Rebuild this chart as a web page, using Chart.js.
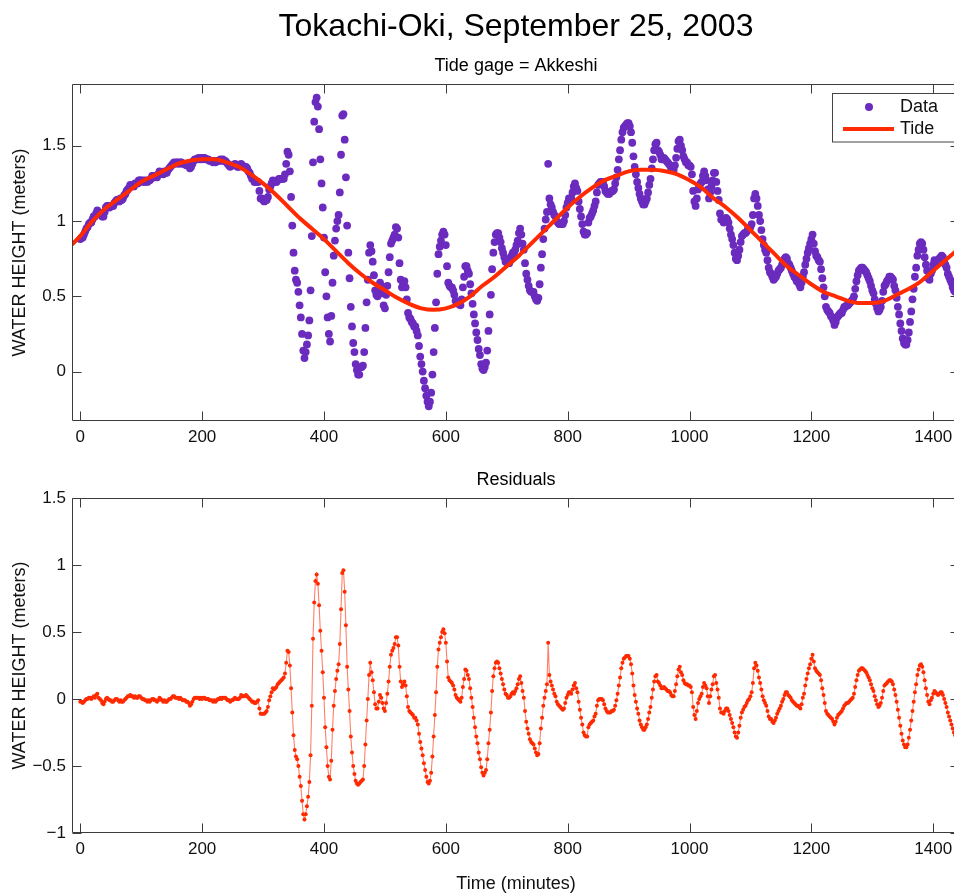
<!DOCTYPE html>
<html><head><meta charset="utf-8">
<script src="https://cdn.jsdelivr.net/npm/chart.js@4.4.1/dist/chart.umd.min.js"></script>
<style>
html,body{margin:0;padding:0;background:#fff;overflow:hidden;}
#wrap{position:relative;width:954px;height:893px;overflow:hidden;background:#fff;}
#c1{position:absolute;left:0;top:0;}
#c2{position:absolute;left:0;top:460px;}
</style></head><body>
<div id="wrap">
<canvas id="c1" width="960" height="470" style="width:960px;height:470px"></canvas>
<canvas id="c2" width="960" height="435" style="width:960px;height:435px"></canvas>
</div>
<script>
// ---------------- DATA ----------------
const mainTitle = 'Tokachi-Oki, September 25, 2003';
const topSubtitle = 'Tide gage = Akkeshi';
const bottomTitle = 'Residuals';
const yAxisTitle = 'WATER HEIGHT (meters)';
const xAxisTitle = 'Time (minutes)';
const seriesNames = ['Data', 'Tide'];

// sample clock of the gauge record (minutes)
const SAMPLE_START = 0, SAMPLE_STEP = 2;

// observed water height (m), one value every 2 minutes from t = 0
const observed = [
0.88,0.89,0.89,0.91,0.93,0.95,0.96,0.98,0.99,0.99,
1.01,1.03,1.03,1.05,1.07,1.05,1.05,1.05,1.03,1.03,
1.06,1.09,1.10,1.10,1.09,1.10,1.10,1.10,1.12,1.13,
1.14,1.14,1.13,1.15,1.14,1.15,1.17,1.18,1.20,1.21,
1.22,1.24,1.23,1.24,1.23,1.25,1.25,1.25,1.27,1.27,
1.27,1.26,1.27,1.26,1.27,1.26,1.27,1.27,1.28,1.30,
1.30,1.29,1.30,1.29,1.31,1.33,1.32,1.32,1.31,1.33,
1.32,1.32,1.34,1.35,1.36,1.37,1.38,1.39,1.38,1.39,
1.39,1.38,1.39,1.39,1.38,1.38,1.38,1.37,1.38,1.37,
1.35,1.36,1.38,1.40,1.41,1.41,1.41,1.42,1.41,1.42,
1.41,1.42,1.42,1.41,1.41,1.41,1.40,1.40,1.40,1.39,
1.40,1.39,1.40,1.40,1.40,1.41,1.40,1.41,1.40,1.40,
1.39,1.38,1.37,1.36,1.37,1.37,1.37,1.38,1.37,1.36,
1.36,1.37,1.38,1.37,1.36,1.36,1.36,1.35,1.33,1.32,
1.30,1.28,1.28,1.26,1.26,1.26,1.26,1.20,1.15,1.15,
1.14,1.13,1.14,1.14,1.16,1.21,1.23,1.25,1.27,1.26,
1.26,1.26,1.27,1.28,1.28,1.28,1.28,1.28,1.31,1.38,
1.46,1.44,1.33,1.16,0.97,0.79,0.67,0.61,0.59,0.53,
0.44,0.36,0.25,0.14,0.09,0.13,0.18,0.24,0.34,0.54,
0.90,1.39,1.66,1.79,1.82,1.76,1.61,1.41,1.25,1.09,
0.89,0.66,0.50,0.36,0.25,0.20,0.37,0.59,0.77,0.87,
0.95,1.00,1.04,1.19,1.44,1.70,1.71,1.54,1.29,0.97,
0.79,0.62,0.43,0.30,0.19,0.13,0.05,0.01,-0.02,-0.02,
0.03,0.03,0.04,0.13,0.29,0.46,0.61,0.79,0.84,0.80,
0.73,0.64,0.54,0.51,0.50,0.55,0.59,0.57,0.52,0.44,
0.42,0.51,0.57,0.66,0.76,0.85,0.87,0.89,0.91,0.96,
0.95,0.89,0.72,0.61,0.56,0.58,0.60,0.56,0.48,0.39,
0.36,0.35,0.33,0.32,0.30,0.30,0.27,0.24,0.17,0.10,
0.05,0.00,-0.06,-0.11,-0.16,-0.20,-0.23,-0.20,-0.14,-0.02,
0.13,0.29,0.46,0.65,0.78,0.83,0.87,0.91,0.93,0.91,
0.84,0.70,0.59,0.57,0.56,0.56,0.54,0.51,0.47,0.46,
0.45,0.45,0.44,0.48,0.56,0.63,0.70,0.70,0.67,0.65,
0.58,0.52,0.45,0.38,0.32,0.26,0.21,0.15,0.11,0.05,
0.02,0.01,0.03,0.06,0.14,0.27,0.38,0.51,0.68,0.79,
0.86,0.91,0.92,0.92,0.89,0.86,0.82,0.79,0.76,0.73,
0.73,0.72,0.72,0.74,0.77,0.79,0.78,0.81,0.84,0.87,
0.92,0.95,0.91,0.85,0.81,0.72,0.65,0.61,0.57,0.54,
0.53,0.53,0.53,0.50,0.48,0.47,0.49,0.58,0.69,0.78,
0.88,0.95,1.01,1.06,1.38,1.15,1.11,1.09,1.06,1.04,
1.03,1.00,0.99,0.98,0.98,0.98,0.98,1.00,1.04,1.09,
1.12,1.15,1.15,1.15,1.19,1.23,1.25,1.22,1.20,1.13,
1.08,1.03,0.98,0.93,0.91,0.91,0.92,0.99,1.02,1.03,
1.05,1.07,1.10,1.13,1.19,1.24,1.25,1.26,1.26,1.26,
1.23,1.20,1.19,1.18,1.18,1.19,1.20,1.20,1.21,1.25,
1.29,1.34,1.41,1.47,1.54,1.59,1.62,1.63,1.64,1.65,
1.65,1.63,1.59,1.52,1.43,1.36,1.31,1.26,1.22,1.18,
1.15,1.13,1.11,1.11,1.13,1.15,1.19,1.24,1.28,1.35,
1.41,1.47,1.51,1.52,1.47,1.46,1.44,1.41,1.41,1.42,
1.41,1.40,1.39,1.38,1.37,1.35,1.34,1.34,1.37,1.42,
1.48,1.53,1.54,1.50,1.47,1.43,1.41,1.39,1.39,1.37,
1.37,1.36,1.31,1.20,1.13,1.10,1.15,1.21,1.23,1.25,
1.26,1.30,1.33,1.30,1.27,1.21,1.15,1.19,1.23,1.27,
1.32,1.32,1.26,1.20,1.14,1.05,1.01,1.01,0.99,1.01,
1.02,1.01,0.99,0.95,0.91,0.88,0.84,0.79,0.75,0.74,
0.77,0.81,0.86,0.90,0.91,0.92,0.92,0.93,0.95,0.95,
0.96,0.98,1.04,1.15,1.18,1.15,1.10,1.04,1.00,0.94,
0.88,0.84,0.81,0.79,0.74,0.69,0.66,0.65,0.63,0.61,
0.62,0.63,0.65,0.67,0.68,0.69,0.71,0.72,0.75,0.76,
0.75,0.72,0.71,0.69,0.67,0.65,0.63,0.62,0.60,0.60,
0.58,0.56,0.59,0.63,0.66,0.71,0.75,0.79,0.82,0.85,
0.88,0.91,0.85,0.80,0.77,0.76,0.74,0.73,0.68,0.62,
0.56,0.50,0.43,0.41,0.40,0.39,0.37,0.36,0.34,0.31,
0.33,0.36,0.37,0.38,0.39,0.39,0.41,0.43,0.43,0.44,
0.44,0.45,0.46,0.47,0.48,0.50,0.55,0.60,0.64,0.67,
0.68,0.69,0.69,0.68,0.67,0.66,0.64,0.62,0.60,0.57,
0.54,0.52,0.48,0.45,0.42,0.40,0.41,0.43,0.47,0.53,
0.57,0.58,0.60,0.61,0.63,0.63,0.62,0.61,0.57,0.54,
0.49,0.43,0.38,0.32,0.27,0.22,0.19,0.18,0.18,0.21,
0.26,0.33,0.40,0.48,0.55,0.63,0.69,0.77,0.81,0.85,
0.86,0.85,0.81,0.76,0.71,0.67,0.62,0.61,0.65,0.67,
0.71,0.74,0.73,0.73,0.73,0.75,0.76,0.77,0.76,0.73,
0.71,0.69,0.65,0.63,0.61,0.59,0.56,0.54,0.53
];

// residual (observed - tide), m, one value every 2 minutes from t = 0
const residual = [
-0.02,-0.02,-0.03,-0.02,-0.01,0.00,0.00,0.01,0.01,0.00,
0.01,0.02,0.01,0.03,0.04,0.01,0.00,-0.01,-0.03,-0.04,
-0.02,0.00,0.01,0.00,-0.01,-0.01,-0.02,-0.02,-0.01,0.00,
0.00,-0.01,-0.02,-0.01,-0.02,-0.02,-0.01,0.00,0.01,0.02,
0.02,0.03,0.02,0.02,0.01,0.02,0.01,0.01,0.02,0.02,
0.01,0.00,0.00,-0.01,-0.01,-0.02,-0.01,-0.02,-0.01,0.00,
0.00,-0.01,-0.01,-0.02,-0.01,0.01,0.00,-0.01,-0.02,-0.01,
-0.02,-0.02,-0.01,0.00,0.00,0.01,0.02,0.02,0.01,0.01,
0.01,0.00,0.01,0.00,-0.01,-0.01,-0.01,-0.02,-0.02,-0.03,
-0.05,-0.04,-0.02,0.00,0.01,0.01,0.01,0.01,0.00,0.01,
0.00,0.01,0.01,0.00,0.00,0.00,-0.01,-0.01,-0.01,-0.02,
-0.01,-0.02,-0.01,0.00,0.00,0.01,0.00,0.01,0.01,0.01,
0.00,-0.01,-0.01,-0.02,-0.01,-0.01,0.00,0.01,0.00,0.00,
0.00,0.01,0.03,0.02,0.02,0.02,0.03,0.02,0.01,0.00,
-0.01,-0.02,-0.02,-0.03,-0.03,-0.02,-0.01,-0.07,-0.11,-0.11,
-0.11,-0.11,-0.10,-0.09,-0.06,-0.01,0.02,0.05,0.08,0.07,
0.08,0.09,0.11,0.12,0.13,0.14,0.15,0.16,0.19,0.27,
0.36,0.35,0.25,0.08,-0.10,-0.27,-0.38,-0.43,-0.45,-0.50,
-0.58,-0.65,-0.76,-0.86,-0.90,-0.86,-0.80,-0.73,-0.62,-0.42,
-0.05,0.45,0.72,0.88,0.93,0.86,0.70,0.51,0.36,0.20,
0.01,-0.21,-0.36,-0.50,-0.58,-0.60,-0.46,-0.23,-0.05,0.06,
0.15,0.21,0.26,0.41,0.67,0.94,0.96,0.80,0.55,0.24,
0.07,-0.09,-0.28,-0.40,-0.50,-0.56,-0.61,-0.63,-0.64,-0.63,
-0.62,-0.61,-0.60,-0.50,-0.34,-0.16,0.00,0.18,0.27,0.20,
0.14,0.05,-0.04,-0.07,-0.07,-0.02,0.03,0.01,-0.03,-0.07,
-0.09,-0.03,0.04,0.13,0.24,0.33,0.36,0.38,0.41,0.46,
0.46,0.40,0.24,0.13,0.09,0.11,0.13,0.10,0.02,-0.06,
-0.09,-0.10,-0.11,-0.12,-0.14,-0.14,-0.16,-0.19,-0.26,-0.32,
-0.37,-0.42,-0.48,-0.53,-0.58,-0.62,-0.63,-0.61,-0.55,-0.43,
-0.28,-0.12,0.05,0.24,0.37,0.42,0.46,0.50,0.52,0.49,
0.42,0.28,0.16,0.14,0.13,0.12,0.10,0.07,0.03,0.01,
0.00,-0.01,-0.02,0.01,0.09,0.15,0.22,0.21,0.18,0.15,
0.08,0.01,-0.06,-0.14,-0.21,-0.28,-0.33,-0.40,-0.45,-0.51,
-0.55,-0.57,-0.55,-0.53,-0.45,-0.33,-0.23,-0.10,0.06,0.17,
0.23,0.27,0.28,0.27,0.23,0.19,0.15,0.11,0.07,0.04,
0.03,0.01,0.01,0.02,0.04,0.05,0.04,0.06,0.08,0.11,
0.15,0.17,0.12,0.06,0.01,-0.09,-0.17,-0.22,-0.26,-0.30,
-0.32,-0.33,-0.34,-0.37,-0.40,-0.42,-0.41,-0.33,-0.22,-0.14,
-0.05,0.01,0.06,0.11,0.42,0.18,0.13,0.10,0.07,0.04,
0.02,-0.02,-0.04,-0.05,-0.06,-0.07,-0.08,-0.07,-0.03,0.01,
0.03,0.05,0.05,0.04,0.07,0.10,0.12,0.08,0.05,-0.02,
-0.08,-0.14,-0.19,-0.25,-0.27,-0.28,-0.28,-0.21,-0.19,-0.18,
-0.17,-0.16,-0.13,-0.11,-0.05,-0.01,0.00,0.00,0.00,-0.01,
-0.04,-0.07,-0.09,-0.10,-0.10,-0.10,-0.09,-0.09,-0.08,-0.05,
-0.01,0.04,0.10,0.16,0.23,0.27,0.30,0.31,0.32,0.32,
0.32,0.30,0.26,0.19,0.10,0.03,-0.02,-0.07,-0.11,-0.16,
-0.19,-0.21,-0.23,-0.23,-0.21,-0.19,-0.15,-0.10,-0.06,0.01,
0.07,0.13,0.17,0.18,0.13,0.12,0.10,0.08,0.08,0.09,
0.08,0.07,0.06,0.06,0.05,0.03,0.02,0.02,0.06,0.11,
0.17,0.22,0.24,0.20,0.18,0.14,0.12,0.11,0.11,0.10,
0.10,0.09,0.05,-0.06,-0.12,-0.15,-0.09,-0.03,0.00,0.02,
0.04,0.09,0.12,0.10,0.08,0.02,-0.03,0.02,0.07,0.11,
0.17,0.18,0.12,0.07,0.01,-0.07,-0.10,-0.10,-0.11,-0.09,
-0.07,-0.07,-0.09,-0.12,-0.15,-0.18,-0.21,-0.25,-0.28,-0.29,
-0.25,-0.20,-0.14,-0.10,-0.08,-0.06,-0.05,-0.03,-0.01,0.00,
0.02,0.05,0.12,0.23,0.27,0.25,0.21,0.16,0.12,0.07,
0.02,-0.01,-0.03,-0.05,-0.09,-0.13,-0.15,-0.15,-0.17,-0.18,
-0.16,-0.14,-0.11,-0.09,-0.07,-0.05,-0.02,0.00,0.03,0.05,
0.05,0.03,0.02,0.01,-0.01,-0.02,-0.03,-0.04,-0.05,-0.05,
-0.06,-0.07,-0.04,0.01,0.04,0.10,0.15,0.19,0.23,0.26,
0.30,0.33,0.28,0.23,0.21,0.20,0.19,0.18,0.14,0.08,
0.03,-0.03,-0.09,-0.11,-0.12,-0.13,-0.14,-0.15,-0.17,-0.19,
-0.17,-0.14,-0.12,-0.11,-0.10,-0.09,-0.07,-0.05,-0.04,-0.03,
-0.03,-0.02,-0.01,0.00,0.01,0.04,0.09,0.14,0.18,0.21,
0.22,0.23,0.23,0.22,0.21,0.20,0.18,0.16,0.14,0.11,
0.08,0.06,0.02,-0.01,-0.04,-0.06,-0.05,-0.03,0.01,0.06,
0.10,0.11,0.12,0.13,0.14,0.14,0.13,0.11,0.07,0.03,
-0.02,-0.08,-0.14,-0.20,-0.26,-0.31,-0.34,-0.36,-0.36,-0.34,
-0.29,-0.23,-0.16,-0.09,-0.02,0.05,0.11,0.18,0.22,0.25,
0.26,0.24,0.20,0.14,0.08,0.03,-0.02,-0.04,-0.01,0.01,
0.04,0.06,0.05,0.04,0.03,0.04,0.05,0.05,0.03,0.00,
-0.03,-0.06,-0.10,-0.13,-0.16,-0.19,-0.22,-0.25,-0.27
];

// predicted tide (m), read every 20 minutes
const tideMinutes = [-20,0,20,40,60,80,100,120,140,160,180,200,220,240,260,280,300,320,340,360,
380,400,420,440,460,480,500,520,540,560,580,600,620,640,660,680,700,720,740,760,
780,800,820,840,860,880,900,920,940,960,980,1000,1020,1040,1060,1080,1100,1120,1140,1160,
1180,1200,1220,1240,1260,1280,1300,1320,1340,1360,1380,1400,1420,1440];
const tideValues = [0.82,0.90,1.00,1.08,1.14,1.20,1.26,1.30,1.34,1.38,1.40,1.41,1.41,1.39,1.36,1.31,1.25,1.18,1.10,1.02,
0.95,0.88,0.80,0.72,0.65,0.59,0.54,0.49,0.45,0.42,0.41,0.42,0.45,0.50,0.57,0.63,0.70,0.77,0.85,0.93,
1.01,1.09,1.16,1.22,1.27,1.30,1.33,1.34,1.34,1.33,1.31,1.27,1.22,1.15,1.09,1.02,0.94,0.86,0.78,0.70,
0.64,0.58,0.53,0.50,0.47,0.455,0.455,0.47,0.51,0.55,0.60,0.67,0.74,0.81];

const xTickStep = 200;
const topYTickStep = 0.5;
const bottomYTickStep = 0.5;

// ---------------- STYLE ----------------
const FONT = "'Liberation Sans', Arial, Helvetica, sans-serif";
const DATA_COLOR = '#6a2bbe';
const TIDE_COLOR = '#ff2a00';
const RES_COLOR = '#ff2a00';
const AXIS_COLOR = '#3c3c3c';
const TEXT_COLOR = '#111111';
const X_MIN = -13.6, X_MAX = 1444;

Chart.defaults.font.family = FONT;
Chart.defaults.font.size = 17;
Chart.defaults.color = TEXT_COLOR;

const minutes = residual.map((_, i) => SAMPLE_START + i * SAMPLE_STEP);
const toXY = (xs, ys) => ys.map((v, i) => ({x: xs[i], y: v}));
const fmt = v => String(Math.round(v * 100) / 100).replace('-', '\u2212');

const boxPlugin = {
  id: 'matlabBox',
  afterDatasetsDraw(chart) {
    const {ctx, chartArea: a, scales: {x, y}} = chart;
    ctx.save();
    ctx.strokeStyle = AXIS_COLOR;
    ctx.lineWidth = 1;
    const L = Math.round(a.left) + 0.5, R = Math.round(a.right) - 0.5;
    const T = Math.round(a.top) + 0.5, B = Math.round(a.bottom) - 0.5;
    ctx.beginPath();
    ctx.moveTo(L, T); ctx.lineTo(R, T); ctx.lineTo(R, B); ctx.lineTo(L, B); ctx.closePath();
    const TL = 9;
    x.ticks.forEach(t => {
      const px = Math.round(x.getPixelForValue(t.value)) + 0.5;
      ctx.moveTo(px, B); ctx.lineTo(px, B - TL);
      ctx.moveTo(px, T); ctx.lineTo(px, T + TL);
    });
    y.ticks.forEach(t => {
      const py = Math.round(y.getPixelForValue(t.value)) + 0.5;
      ctx.moveTo(L, py); ctx.lineTo(L + TL, py);
      ctx.moveTo(R, py); ctx.lineTo(R - TL, py);
    });
    ctx.stroke();
    ctx.restore();
  }
};

const legendPlugin = {
  id: 'matlabLegend',
  afterDraw(chart) {
    const ctx = chart.ctx;
    const ds = chart.data.datasets;
    const dataDs = ds.find(d => d.label === seriesNames[0]);
    const tideDs = ds.find(d => d.label === seriesNames[1]);
    ctx.save();
    ctx.fillStyle = '#fff';
    ctx.fillRect(832.5, 93.5, 140, 48.5);
    ctx.strokeStyle = '#444';
    ctx.lineWidth = 1;
    ctx.strokeRect(832.5, 93.5, 140, 48.5);
    ctx.fillStyle = dataDs.pointBackgroundColor;
    ctx.beginPath(); ctx.arc(869, 107, 4, 0, Math.PI * 2); ctx.fill();
    ctx.strokeStyle = tideDs.borderColor;
    ctx.lineWidth = 4;
    ctx.beginPath(); ctx.moveTo(843, 129); ctx.lineTo(894, 129); ctx.stroke();
    ctx.fillStyle = TEXT_COLOR;
    ctx.font = '18px ' + FONT;
    ctx.textBaseline = 'middle';
    ctx.fillText(dataDs.label, 900, 107);
    ctx.fillText(tideDs.label, 900, 129);
    ctx.restore();
  }
};

function xAxis(height, withTitle) {
  return {
    type: 'linear', min: X_MIN, max: X_MAX,
    grid: {display: false, drawTicks: false}, border: {display: false},
    ticks: {stepSize: xTickStep, includeBounds: false, padding: 6, maxRotation: 0, autoSkip: false,
            callback: v => fmt(v), color: TEXT_COLOR, font: {size: 17}},
    title: withTitle ? {display: true, text: xAxisTitle, color: TEXT_COLOR, font: {size: 18}, padding: {top: 0, bottom: 0}}
                     : {display: false},
    afterFit: s => { s.height = height; }
  };
}
function yAxis(min, max, step) {
  return {
    type: 'linear', min: min, max: max,
    grid: {display: false, drawTicks: false}, border: {display: false},
    ticks: {stepSize: step, includeBounds: false, padding: 6, callback: v => fmt(v), color: TEXT_COLOR, font: {size: 17}},
    title: {display: true, text: yAxisTitle, color: TEXT_COLOR, font: {size: 18}, padding: {top: 9.2, bottom: 0}},
    afterFit: s => { s.width = 72; }
  };
}

// ---------------- TOP CHART ----------------
new Chart(document.getElementById('c1'), {
  type: 'scatter',
  data: {
    datasets: [
      {label: seriesNames[1], data: toXY(tideMinutes, tideValues), showLine: true,
       borderColor: TIDE_COLOR, borderWidth: 4, pointRadius: 0, cubicInterpolationMode: 'monotone', order: 0},
      {label: seriesNames[0], data: toXY(minutes, observed), showLine: false,
       pointRadius: 3.9, pointBackgroundColor: DATA_COLOR, pointBorderWidth: 0, borderColor: DATA_COLOR, order: 1}
    ]
  },
  options: {
    responsive: false, animation: false, events: [],
    layout: {padding: 0, autoPadding: false},
    scales: {x: xAxis(470 - 421, false), y: yAxis(-0.328, 1.91, topYTickStep)},
    plugins: {
      legend: {display: false}, tooltip: {enabled: false},
      title: {display: true, text: mainTitle, fullSize: false, color: '#000',
              font: {size: 32, weight: 'normal'}, padding: {top: 7.8, bottom: 0}},
      subtitle: {display: true, text: topSubtitle, fullSize: false, color: '#000',
                 font: {size: 18, weight: 'normal'}, padding: {top: 9, bottom: 7.2}}
    }
  },
  plugins: [boxPlugin, legendPlugin]
});

// ---------------- BOTTOM CHART ----------------
new Chart(document.getElementById('c2'), {
  type: 'scatter',
  data: {
    datasets: [
      {label: bottomTitle, data: toXY(minutes, residual), showLine: true,
       borderColor: 'rgba(255,42,0,0.6)', borderWidth: 1.1,
       pointRadius: 2.0, pointBackgroundColor: RES_COLOR, pointBorderWidth: 0}
    ]
  },
  options: {
    responsive: false, animation: false, events: [],
    layout: {padding: 0, autoPadding: false},
    scales: {x: xAxis(435 - 373, true), y: yAxis(-1, 1.5, bottomYTickStep)},
    plugins: {
      legend: {display: false}, tooltip: {enabled: false},
      title: {display: true, text: bottomTitle, fullSize: false, color: '#000',
              font: {size: 18, weight: 'normal'}, padding: {top: 9.2, bottom: 7.2}}
    }
  },
  plugins: [boxPlugin]
});
</script>
</body></html>
